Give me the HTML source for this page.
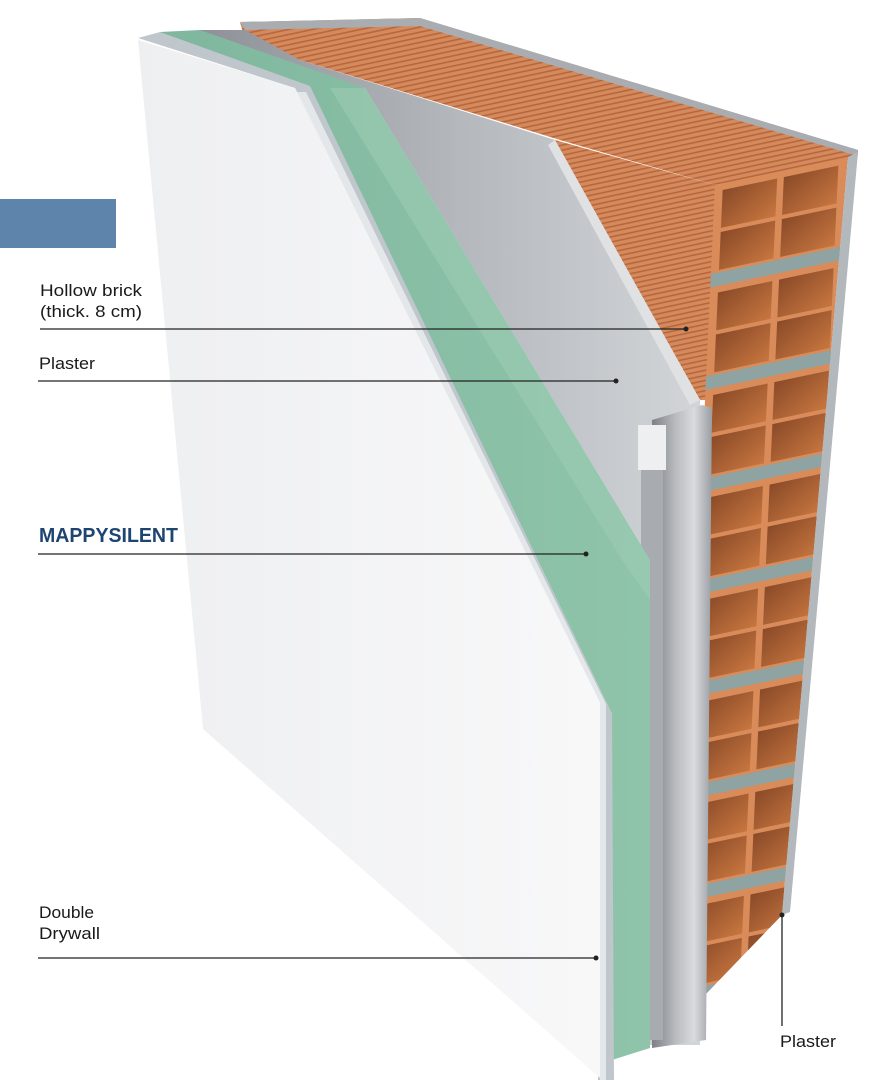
<!DOCTYPE html>
<html><head><meta charset="utf-8"><style>
html,body{margin:0;padding:0;background:#fff;}
svg{display:block;}
text{font-family:"Liberation Sans",sans-serif;}
</style></head><body>
<svg width="890" height="1080" viewBox="0 0 890 1080" xmlns="http://www.w3.org/2000/svg">
<defs>
<linearGradient id="wht" x1="0" y1="0" x2="1" y2="0"><stop offset="0" stop-color="#eeeff1"/><stop offset="1" stop-color="#f8f8f9"/></linearGradient>
<linearGradient id="gry" x1="0" y1="0" x2="1" y2="0"><stop offset="0" stop-color="#8e9298"/><stop offset="0.5" stop-color="#b3b7bc"/><stop offset="1" stop-color="#d2d5d8"/></linearGradient>
<linearGradient id="grn" x1="0" y1="0" x2="1" y2="0"><stop offset="0" stop-color="#7fb79e"/><stop offset="1" stop-color="#8fc4aa"/></linearGradient>
<linearGradient id="hole" x1="0" y1="0" x2="1" y2="1"><stop offset="0" stop-color="#8a4a28"/><stop offset="1" stop-color="#c7763f"/></linearGradient>
<linearGradient id="prof" x1="0" y1="0" x2="1" y2="0"><stop offset="0" stop-color="#7d8187"/><stop offset="0.4" stop-color="#b9bcc0"/><stop offset="0.7" stop-color="#d9dbdd"/><stop offset="1" stop-color="#9a9ea3"/></linearGradient>
<pattern id="hatch" width="8" height="5" patternUnits="userSpaceOnUse" patternTransform="rotate(-12)"><rect width="8" height="5" fill="#d48a5c"/><rect y="3" width="8" height="1.6" fill="#b8673d"/></pattern>
<clipPath id="face"><polygon points="715,185 848,157 782,915 676,1025"/></clipPath>
</defs>

<polygon points="240,22 420,18 858,150 848,160 715,185 560,140 300,60 245,40" fill="url(#hatch)"/>
<polygon points="240,22 420,18 858,150 858,156 420,26 245,30" fill="#a9adb1"/>
<polygon points="555,140 715,185 712,400 700,400" fill="url(#hatch)"/>
<polygon points="715,185 848,157 782,915 676,1025" fill="#d98c5a"/>
<g clip-path="url(#face)">
<g transform="matrix(133,-28,-39,840,715,185)">
<g id="row">
<rect x="0.06" y="0.008" width="0.41" height="0.045" fill="url(#hole)"/>
<rect x="0.52" y="0.008" width="0.41" height="0.045" fill="url(#hole)"/>
<rect x="0.06" y="0.058" width="0.41" height="0.045" fill="url(#hole)"/>
<rect x="0.52" y="0.058" width="0.41" height="0.045" fill="url(#hole)"/>
<rect x="-0.1" y="0.106" width="1.2" height="0.016" fill="#8fa3a2"/>
</g>
<use href="#row" y="0.122"/><use href="#row" y="0.244"/><use href="#row" y="0.366"/>
<use href="#row" y="0.488"/><use href="#row" y="0.61"/><use href="#row" y="0.732"/>
<use href="#row" y="0.854"/><use href="#row" y="0.976"/>
</g>
</g>
<polygon points="848,157 858,152 790,912 782,915" fill="#b3b8bc"/>

<polygon points="200,30 245,30 300,60 555,140 700,400 700,1045 640,1045 650,560 365,88 200,40" fill="url(#gry)"/>
<polygon points="555,140 700,400 690,405 548,145" fill="#dfe1e3"/>
<polygon points="652,420 702,405 712,408 706,1040 652,1048" fill="url(#prof)"/>
<rect x="638" y="425" width="28" height="45" fill="#eeeff0"/>
<rect x="641" y="470" width="22" height="570" fill="#a8acb1"/>
<polygon points="160,32 200,30 365,88 650,560 650,1048 612,1060 612,714 310,88 165,40" fill="url(#grn)"/>
<polygon points="330,88 365,88 650,560 650,600 622,560" fill="#9ccbb4" opacity="0.6"/>
<polygon points="138,38 160,32 310,86 612,714 614,1080 598,1080 598,702 295,88" fill="#bfc6cc"/>
<polygon points="296,92 306,92 606,704 606,1080 600,1080 600,702" fill="#e3e7ea"/>
<polygon points="138,40 295,88 600,702 600,1078 203,729" fill="url(#wht)"/>

<rect x="0" y="199" width="116" height="49" fill="#5f84ab"/>

<g fill="#1a1a1a" font-size="17">
<text x="40" y="296" textLength="102" lengthAdjust="spacingAndGlyphs">Hollow brick</text>
<text x="40" y="317" textLength="102" lengthAdjust="spacingAndGlyphs">(thick. 8 cm)</text>
<text x="39" y="369" textLength="56" lengthAdjust="spacingAndGlyphs">Plaster</text>
<text x="39" y="918" textLength="55" lengthAdjust="spacingAndGlyphs">Double</text>
<text x="39" y="939" textLength="61" lengthAdjust="spacingAndGlyphs">Drywall</text>
<text x="780" y="1047" textLength="56" lengthAdjust="spacingAndGlyphs">Plaster</text>
</g>
<text x="39" y="542" font-size="20" font-weight="bold" fill="#1e4470" textLength="139" lengthAdjust="spacingAndGlyphs">MAPPYSILENT</text>
<g stroke="#222" stroke-width="1.3">
<line x1="40" y1="329" x2="686" y2="329"/>
<line x1="38" y1="381" x2="616" y2="381"/>
<line x1="38" y1="554" x2="586" y2="554"/>
<line x1="38" y1="958" x2="596" y2="958"/>
<line x1="782" y1="915" x2="782" y2="1026"/>
</g>
<g fill="#222">
<circle cx="686" cy="329" r="2.5"/><circle cx="616" cy="381" r="2.5"/>
<circle cx="586" cy="554" r="2.5"/><circle cx="596" cy="958" r="2.5"/>
<circle cx="782" cy="915" r="2.5"/>
</g>
</svg>
</body></html>
